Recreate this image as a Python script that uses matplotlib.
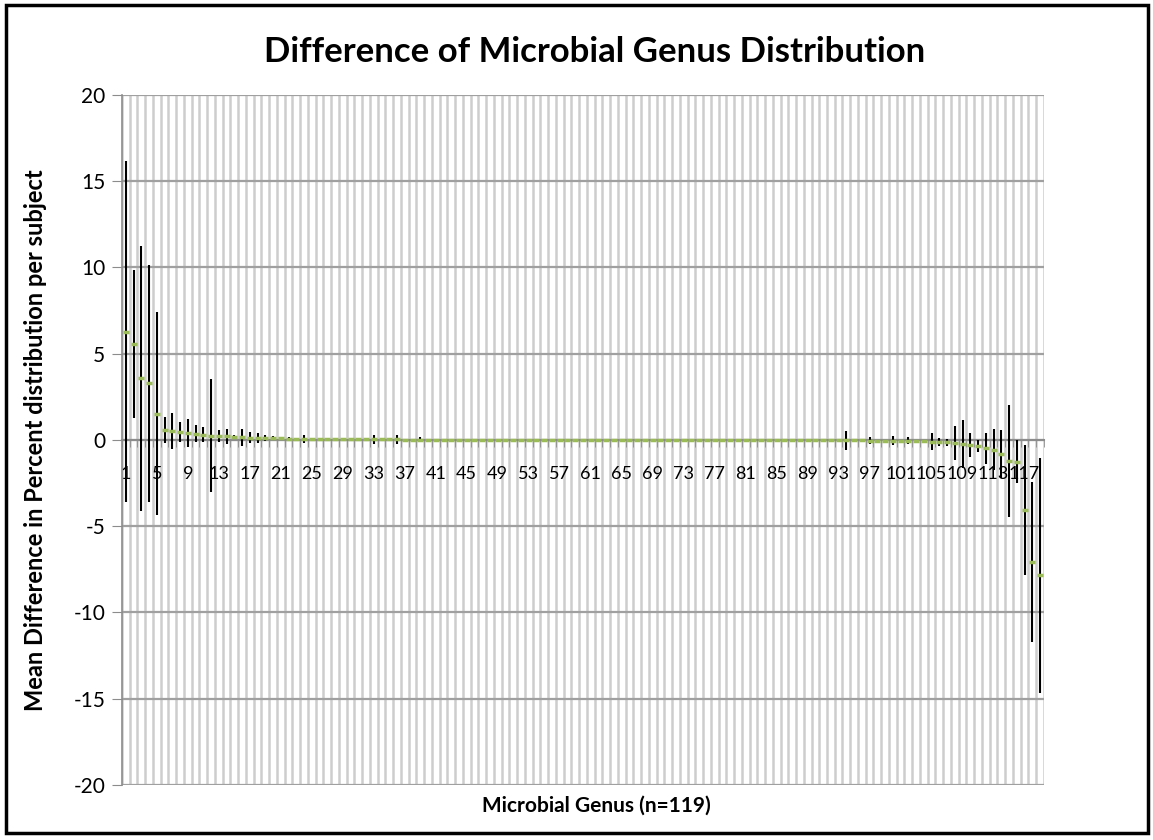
import matplotlib
matplotlib.use("Agg")
import matplotlib.pyplot as plt
from matplotlib.patches import Rectangle
import numpy as np

plt.rcParams["font.family"] = ["Lato", "DejaVu Sans"]
plt.rcParams["axes.unicode_minus"] = False

# genus index 1..119
genus = list(range(1, 120))

mean_diff = [
    6.28, 5.55, 3.57, 3.28, 1.53, 0.58, 0.52, 0.46, 0.39, 0.36,
    0.31, 0.26, 0.24, 0.21, 0.19, 0.16, 0.14, 0.13, 0.12, 0.10,
    0.09, 0.08, 0.07, 0.06, 0.05, 0.05, 0.05, 0.04, 0.04, 0.04,
    0.03, 0.03, 0.03, 0.03, 0.03, 0.03, 0.02, 0.02, 0.02, 0.02,
    0.02, 0.02, 0.02, 0.01, 0.01, 0.01, 0.01, 0.01, 0.01, 0.01,
    0.01, 0.01, 0.01, 0.01, 0.01, 0.01, 0.01, 0.00, 0.00, 0.00,
    0.00, 0.00, 0.00, 0.00, 0.00, 0.00, 0.00, 0.00, 0.00, 0.00,
    0.00, 0.00, 0.00, 0.00, 0.00, 0.00, 0.00, 0.00, 0.00, 0.00,
    0.00, 0.00, 0.00, 0.00, -0.01, -0.01, -0.01, -0.01, -0.01, -0.01,
    -0.01, -0.01, -0.02, -0.02, -0.02, -0.02, -0.03, -0.03, -0.03, -0.04,
    -0.04, -0.05, -0.06, -0.07, -0.09, -0.11, -0.14, -0.17, -0.25, -0.29,
    -0.33, -0.48, -0.56, -0.80, -1.22, -1.26, -4.06, -7.07, -7.84,
]

err = [
    9.90, 4.30, 7.68, 6.86, 5.87, 0.73, 1.06, 0.60, 0.80, 0.50,
    0.45, 3.27, 0.35, 0.45, 0.12, 0.50, 0.30, 0.30, 0.15, 0.12,
    0.08, 0.10, 0.05, 0.25, 0.05, 0.04, 0.04, 0.03, 0.03, 0.04,
    0.03, 0.03, 0.25, 0.03, 0.03, 0.25, 0.03, 0.03, 0.15, 0.03,
    0.02, 0.02, 0.02, 0.02, 0.02, 0.02, 0.02, 0.02, 0.02, 0.02,
    0.02, 0.02, 0.02, 0.02, 0.02, 0.02, 0.02, 0.02, 0.02, 0.02,
    0.02, 0.02, 0.02, 0.02, 0.02, 0.02, 0.02, 0.02, 0.02, 0.02,
    0.02, 0.02, 0.02, 0.02, 0.02, 0.02, 0.02, 0.02, 0.02, 0.02,
    0.02, 0.02, 0.02, 0.02, 0.02, 0.02, 0.02, 0.02, 0.02, 0.02,
    0.02, 0.03, 0.05, 0.55, 0.08, 0.03, 0.20, 0.03, 0.03, 0.25,
    0.03, 0.20, 0.04, 0.05, 0.50, 0.25, 0.20, 1.00, 1.40, 0.68,
    0.35, 0.90, 1.18, 1.40, 3.25, 1.26, 3.77, 4.65, 6.80,
]

tick_labels = [str(g) if (g - 1) % 4 == 0 else "" for g in genus]
y_ticks = [-20, -15, -10, -5, 0, 5, 10, 15, 20]


def make_chart():
    fig = plt.figure(figsize=(11.53, 8.40), dpi=100)
    ax = fig.add_axes([0.1058, 0.0655, 0.7996, 0.8214])

    ax.set_xlim(0.5, len(genus) + 0.5)
    ax.set_ylim(-20, 20)

    # vertical gridlines, one per category boundary (drawn as lines so the
    # tick labels stay on top of them)
    boundaries = np.arange(0.5, len(genus) + 1, 1)
    ax.vlines(boundaries, -20, 20, colors="#cdcdcd", linewidth=1.8, zorder=0)
    ax.set_yticks(y_ticks)
    ax.grid(which="major", axis="y", color="#a0a0a0", linewidth=1.6)
    ax.set_axisbelow(True)

    ax.errorbar(genus, mean_diff, yerr=err, fmt="none", ecolor="black",
                elinewidth=1.5, capsize=0, zorder=3)
    ax.plot(genus, mean_diff, linestyle="none", marker="_", markersize=4.5,
            markeredgewidth=2.5, color="#9bbb59", zorder=4)

    ax.set_xticks(boundaries, minor=True)
    ax.set_xticks(genus)
    ax.set_xticklabels(tick_labels)
    ax.tick_params(axis="x", which="major", length=0, pad=19, labelsize=13)
    ax.tick_params(axis="x", which="minor", length=5, color="#8c8c8c",
                   direction="out")
    ax.tick_params(axis="y", length=7, color="#8c8c8c", labelsize=15, pad=5)

    ax.spines["bottom"].set_position(("data", 0))
    ax.spines["bottom"].set_color("#8c8c8c")
    ax.spines["bottom"].set_linewidth(1.5)
    ax.spines["left"].set_color("#8c8c8c")
    ax.spines["left"].set_linewidth(1.2)
    ax.spines["top"].set_visible(False)
    ax.spines["right"].set_visible(False)

    fig.text(0.516, 0.938, "Difference of Microbial Genus Distribution",
             ha="center", va="center", fontsize=25, fontweight="bold")
    fig.text(0.517, 0.041, "Microbial Genus (n=119)", ha="center",
             va="center", fontsize=15, fontweight="bold")
    fig.text(0.031, 0.476, "Mean Difference in Percent distribution per subject",
             ha="center", va="center", rotation=90, fontsize=17,
             fontweight="bold")

    # outer frame of the chart object
    fig.patches.append(Rectangle((0.005, 0.008), 0.991, 0.986,
                                 transform=fig.transFigure, fill=False,
                                 edgecolor="black", linewidth=2.5))

    fig.savefig("out.png", dpi=100)
    plt.close(fig)


if __name__ == "__main__":
    make_chart()
